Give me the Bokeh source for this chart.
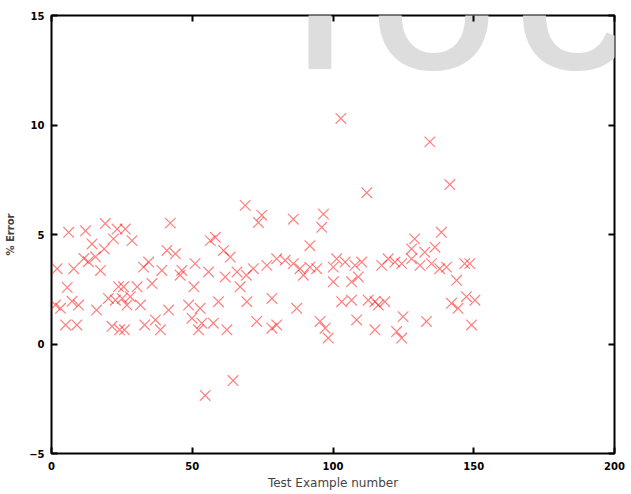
from bokeh.plotting import figure
from bokeh.models import Range1d, LinearAxis, FixedTicker, Label
from bokeh.embed import file_html
from bokeh.resources import INLINE

# Test example number and % error
example = [1.4, 2.0, 3.2, 5.0, 5.6, 6.1, 7.3, 7.9, 9.0, 9.6, 11.5, 12.1, 13.1, 14.4, 15.6, 16.0,
           17.4, 18.7, 19.1, 20.2, 21.5, 22.0, 22.7, 23.3, 23.8, 24.2, 25.1, 25.6, 25.9, 26.2,
           26.8, 28.0, 28.6, 30.4, 31.6, 32.7, 33.1, 34.5, 35.7, 36.9, 38.7, 39.2, 41.0, 41.6,
           42.2, 44.0, 45.7, 46.3, 48.7, 49.9, 50.6, 51.0, 52.2, 52.8, 53.4, 54.6, 55.8, 56.4,
           57.5, 58.2, 59.3, 61.1, 61.7, 62.3, 63.5, 64.5, 65.9, 67.0, 68.8, 69.2, 69.4, 71.7,
           72.9, 73.5, 74.7, 76.5, 78.3, 78.3, 80.0, 80.0, 83.0, 85.9, 85.9, 87.1, 88.3, 89.5,
           91.8, 91.8, 94.2, 95.4, 96.0, 96.6, 97.2, 98.3, 100.1, 100.1, 101.3, 102.8, 103.1,
           104.3, 106.6, 106.6, 107.8, 108.4, 109.0, 110.2, 112.0, 112.5, 114.9, 114.9, 116.1,
           117.3, 118.4, 119.6, 122.0, 122.6, 124.4, 124.4, 124.9, 127.9, 127.9, 129.0, 130.9,
           132.6, 133.2, 134.4, 135.0, 136.2, 137.9, 138.5, 140.3, 141.5, 142.1, 143.9, 144.4,
           146.8, 147.4, 148.6, 149.2, 150.4]
error = [1.78, 3.44, 1.63, 0.87, 2.58, 5.10, 1.95, 3.44, 0.87, 1.78, 3.90, 5.17, 3.76, 4.57, 3.98, 1.55,
         3.36, 4.34, 5.50, 2.08, 0.81, 4.80, 2.00, 5.25, 2.62, 0.65, 2.08, 2.61, 0.65, 5.25,
         1.78, 2.16, 4.72, 2.61, 1.78, 3.51, 0.87, 3.74, 2.76, 1.10, 0.65, 3.36, 4.27, 1.55,
         5.52, 4.12, 3.14, 3.36, 1.78, 1.18, 2.61, 3.67, 0.65, 1.63, 0.95, -2.35, 3.29, 4.72,
         0.95, 4.87, 1.93, 4.27, 3.06, 0.65, 3.97, -1.67, 3.29, 2.61, 6.33, 3.14, 1.93, 3.44,
         1.03, 5.55, 5.88, 3.59, 2.08, 0.72, 3.89, 0.87, 3.82, 3.67, 5.70, 1.63, 3.44, 3.14,
         3.51, 4.49, 3.44, 1.03, 5.33, 5.93, 0.72, 0.27, 3.51, 2.84, 3.89, 10.30, 1.93,
         3.74, 2.84, 2.00, 3.59, 1.10, 3.06, 3.74, 6.91, 2.00, 1.93, 0.65, 1.78,
         3.59, 1.93, 3.89, 3.74, 0.57, 3.67, 0.27, 1.25, 3.89, 4.34, 4.80, 3.59,
         4.19, 1.03, 9.23, 3.67, 4.42, 3.44, 5.10, 3.51, 7.28, 1.86, 2.91, 1.63,
         3.67, 2.16, 3.67, 0.87, 2.00]

x_ticks = [0, 50, 100, 150, 200]
y_ticks = [-5, 0, 5, 10, 15]
watermark = ["I", "O", "C"]
watermark_x = [95.4, 135.8, 165.2]
watermark_align = ["center", "center", "left"]

p = figure(width=628, height=492, output_backend="svg", toolbar_location=None,
           x_range=Range1d(0, 200), y_range=Range1d(-5, 15),
           min_border_left=51, min_border_right=14, min_border_top=15, min_border_bottom=35,
           x_axis_label="Test Example number", y_axis_label="% Error")

p.background_fill_color = "white"
p.border_fill_color = "white"
p.grid.visible = False
p.outline_line_color = "black"
p.outline_line_width = 2
p.outline_line_alpha = 1

for i, t in enumerate(watermark):
    p.add_layout(Label(x=watermark_x[i], y=15.05, text=t, text_align=watermark_align[i],
                       text_baseline="middle", text_font="Liberation Sans",
                       text_font_style="bold", text_font_size="158px",
                       text_color="#dddddd", level="underlay"))

p.scatter(example, error, marker="x", size=15, line_color="red", line_alpha=0.5,
          line_width=1.2)

for ax in (p.xaxis[0], p.yaxis[0]):
    ax.axis_line_color = None
    ax.major_tick_in = 6
    ax.major_tick_out = 0
    ax.major_tick_line_width = 2
    ax.minor_tick_line_color = None
    ax.major_label_text_font = "DejaVu Sans"
    ax.major_label_text_font_style = "bold"
    ax.major_label_text_font_size = "10px"
    ax.major_label_text_color = "black"

p.xaxis[0].ticker = FixedTicker(ticks=x_ticks)
p.yaxis[0].ticker = FixedTicker(ticks=y_ticks)
p.xaxis[0].major_label_standoff = 8
p.yaxis[0].major_label_standoff = 7
p.xaxis[0].axis_label_text_font = "DejaVu Sans"
p.xaxis[0].axis_label_text_font_style = "normal"
p.xaxis[0].axis_label_text_font_size = "12px"
p.xaxis[0].axis_label_standoff = 3
p.yaxis[0].axis_label_text_font = "DejaVu Sans"
p.yaxis[0].axis_label_text_font_style = "bold"
p.yaxis[0].axis_label_text_font_size = "10px"
p.yaxis[0].axis_label_standoff = 10

top = LinearAxis(ticker=FixedTicker(ticks=x_ticks))
right = LinearAxis(ticker=FixedTicker(ticks=y_ticks))
top.major_label_overrides = {t: "" for t in x_ticks}
right.major_label_overrides = {t: "" for t in y_ticks}
for ax in (top, right):
    ax.axis_line_color = None
    ax.major_tick_in = 6
    ax.major_tick_out = 0
    ax.major_tick_line_width = 2
    ax.minor_tick_line_color = None
    ax.major_label_standoff = 0
p.add_layout(top, "above")
p.add_layout(right, "right")

open("out.html", "w").write(file_html(p, INLINE))
